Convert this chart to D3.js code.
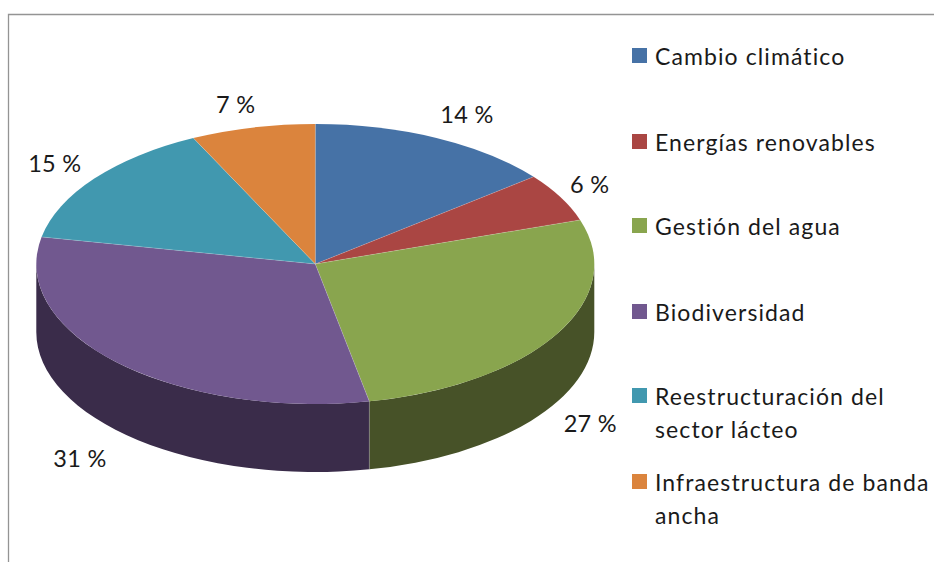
<!DOCTYPE html>
<html>
<head>
<meta charset="utf-8">
<script src="https://cdn.jsdelivr.net/npm/d3@7"></script>
<style>
  html, body { margin: 0; padding: 0; background: #fff; }
  svg { display: block; }
  text { font-family: Lato, "Open Sans", sans-serif; fill: #1a1a1a; }
</style>
</head>
<body>
<div id="chart"></div>
<script>
const categories = ['Cambio climático', 'Energías renovables', 'Gestión del agua', 'Biodiversidad', 'Reestructuración del sector lácteo', 'Infraestructura de banda ancha'];
const values = [14.3, 5.6, 27, 31.2, 14.7, 7.2];
const percentLabels = ['14 %', '6 %', '27 %', '31 %', '15 %', '7 %'];
const topColors = ['#4672a6', '#aa4643', '#89a54e', '#71588f', '#4198af', '#db843d'];
const wallColors = ['#2a4464', '#662a28', '#475228', '#3a2c4a', '#275b69', '#834f25'];
const legendLines = [['Cambio climático'], ['Energías renovables'], ['Gestión del agua'], ['Biodiversidad'], ['Reestructuración del', 'sector lácteo'], ['Infraestructura de banda', 'ancha']];

const width = 934;
const height = 562;
const cx = 315.3;
const cy = 264;
const rx = 279;
const ry = 140;
const depth = 68;

// label offsets from the rim point at each slice's middle angle
const labelOffsets = [[30.5, -15], [29, -4], [34, 97], [-38, 104], [-39.5, -6.6], [-17, -14.6]];
const legendTop = [48, 134, 218, 304, 388, 474];

const svg = d3.select('#chart')
  .append('svg')
  .attr('width', width)
  .attr('height', height)
  .attr('viewBox', `0 0 ${width} ${height}`);

// chart frame, only top and left are visible in the crop
svg.append('path')
  .attr('d', `M8.5,${height} V14.5 H${width}`)
  .attr('fill', 'none')
  .attr('stroke', '#949494')
  .attr('stroke-width', 1.3);

const pie = d3.pie().sort(null).value(d => d);
const slices = pie(values);

const rimX = a => cx + rx * Math.sin(a);
const rimY = a => cy - ry * Math.cos(a);

function wallPath(a0, a1) {
  return `M${rimX(a0)},${rimY(a0)}` +
    `A${rx},${ry} 0 0 1 ${rimX(a1)},${rimY(a1)}` +
    `L${rimX(a1)},${rimY(a1) + depth}` +
    `A${rx},${ry} 0 0 0 ${rimX(a0)},${rimY(a0) + depth}Z`;
}

// side walls, only the front half of the cake can be seen
const front = slices
  .map((d, i) => ({
    i,
    a0: Math.max(d.startAngle, Math.PI / 2),
    a1: Math.min(d.endAngle, Math.PI * 1.5)
  }))
  .filter(d => d.a1 > d.a0);

svg.append('g')
  .selectAll('path')
  .data(front)
  .join('path')
  .attr('d', d => wallPath(d.a0, d.a1))
  .attr('fill', d => wallColors[d.i]);

// top face, circular arcs squashed into the ellipse
const arc = d3.arc().innerRadius(0).outerRadius(rx);

svg.append('g')
  .attr('transform', `translate(${cx},${cy}) scale(1,${ry / rx})`)
  .selectAll('path')
  .data(slices)
  .join('path')
  .attr('d', arc)
  .attr('fill', (d, i) => topColors[i]);

// faint seams between the slices
const seams = svg.append('g')
  .attr('stroke', '#fff')
  .attr('stroke-opacity', 0.3)
  .attr('stroke-width', 0.6);

seams.selectAll('line.top')
  .data(slices)
  .join('line')
  .attr('class', 'top')
  .attr('x1', cx)
  .attr('y1', cy)
  .attr('x2', d => rimX(d.startAngle))
  .attr('y2', d => rimY(d.startAngle));

seams.selectAll('line.wall')
  .data(slices.filter(d => d.startAngle > Math.PI / 2 && d.startAngle < Math.PI * 1.5))
  .join('line')
  .attr('class', 'wall')
  .attr('x1', d => rimX(d.startAngle))
  .attr('y1', d => rimY(d.startAngle))
  .attr('x2', d => rimX(d.startAngle))
  .attr('y2', d => rimY(d.startAngle) + depth);

// data labels
svg.append('g')
  .selectAll('text')
  .data(slices)
  .join('text')
  .attr('x', (d, i) => rimX((d.startAngle + d.endAngle) / 2) + labelOffsets[i][0])
  .attr('y', (d, i) => rimY((d.startAngle + d.endAngle) / 2) + labelOffsets[i][1])
  .attr('text-anchor', 'middle')
  .attr('font-size', '23.5px')
  .attr('letter-spacing', '0.3px')
  .text((d, i) => percentLabels[i]);

// legend
const legend = svg.append('g')
  .selectAll('g')
  .data(categories)
  .join('g')
  .attr('transform', (d, i) => `translate(632,${legendTop[i]})`);

legend.append('rect')
  .attr('width', 15)
  .attr('height', 15)
  .attr('fill', (d, i) => topColors[i]);

legend.append('text')
  .attr('x', 23)
  .attr('y', 17)
  .attr('font-size', '23px')
  .attr('letter-spacing', '1.1px')
  .selectAll('tspan')
  .data((d, i) => legendLines[i])
  .join('tspan')
  .attr('x', 23)
  .attr('dy', (d, i) => i ? 33 : 0)
  .text(d => d);
</script>
</body>
</html>
